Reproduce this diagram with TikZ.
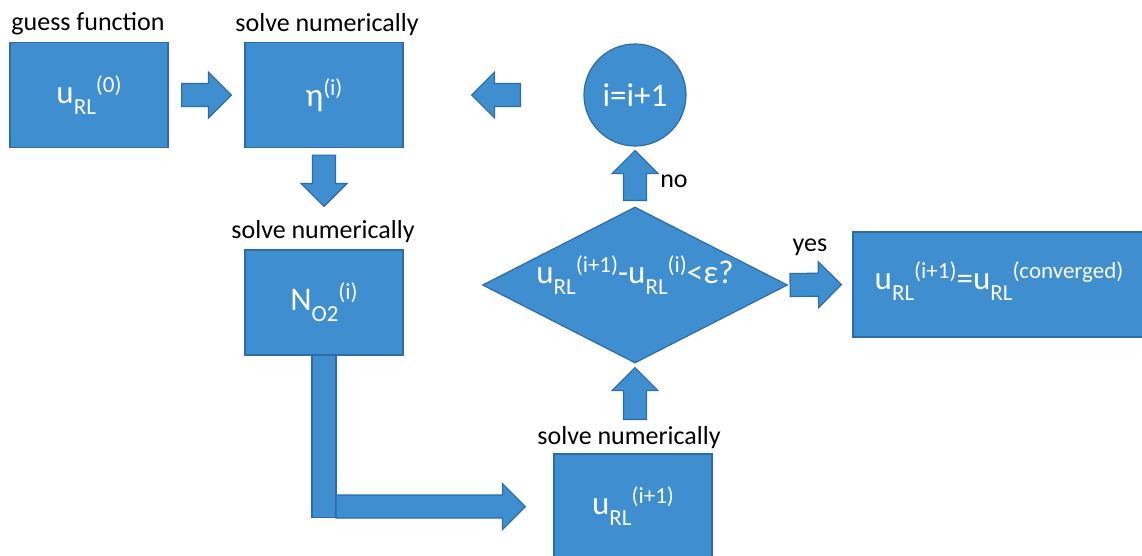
\documentclass[tikz,border=0pt]{standalone}
\usepackage{fontspec}
\setmainfont{Carlito}
\usepackage{xcolor}
\usetikzlibrary{shapes.geometric}
\usetikzlibrary{calc}
\usetikzlibrary{positioning}

\definecolor{boxblue}{RGB}{63,142,208}
\definecolor{boxline}{RGB}{46,108,168}

% lowered and raised indices as in the slide
\newcommand{\lo}[1]{\raisebox{-11pt}{\fontsize{23}{23}\selectfont #1}}
\newcommand{\hi}[1]{\raisebox{11pt}{\fontsize{23}{23}\selectfont #1}}

% fat block arrow from #1 to #2
\newcommand{\blockarrow}[2]{%
  \coordinate (hb) at ($(#2)!23pt!(#1)$);
  \filldraw[block] ($(#1)!11.5pt!90:(#2)$) -- ($(hb)!11.5pt!90:(#2)$) -- ($(hb)!23pt!90:(#2)$)
    -- (#2) -- ($(hb)!23pt!-90:(#2)$) -- ($(hb)!11.5pt!-90:(#2)$) -- ($(#1)!11.5pt!-90:(#2)$) -- cycle;}

\begin{document}
\begin{tikzpicture}[x=1pt, y=-1pt,
    % boxes of the loop
    flowbox/.style={rectangle, draw=boxline, fill=boxblue, line width=1.2pt, minimum width=158pt, minimum height=105pt, inner sep=0pt, text=white, font=\fontsize{33}{38}\selectfont},
    counter/.style={circle, draw=boxline, fill=boxblue, line width=1.2pt, minimum size=102pt, inner sep=0pt, text=white, font=\fontsize{33}{38}\selectfont},
    decision/.style={diamond, draw=boxline, fill=boxblue, line width=1.2pt, minimum width=305pt, minimum height=156pt, inner sep=0pt},
    boxtext/.style={text=white, font=\fontsize{33}{38}\selectfont, inner sep=0pt},
    % text above the boxes
    caption/.style={font=\fontsize{26}{31}\selectfont, inner sep=0pt},
    % fat arrows
    block/.style={draw=boxline, fill=boxblue, line width=1.2pt, line join=miter}
  ]
  \useasboundingbox (0,0) rectangle (1142,555);
  \clip (0,0) rectangle (1142,555);

  % --- Boxes ---
  \node[flowbox] (guess) at (89,95)    {u\lo{RL}\hi{(0)}};
  \node[flowbox] (eta)   at (324,95)   {η\hi{(i)}};
  \node[flowbox] (ox)    at (324,302.5) {N\lo{O2}\hi{(i)}};
  \node[flowbox] (unext) at (633,506.5) {u\lo{RL}\hi{(i+1)}};
  \node[flowbox, minimum width=292pt, text depth=17pt] (done) at (999,284.5)
    {u\lo{RL}\hi{(i+1)}=u\lo{RL}\hi{(converged)}};
  \node[counter] (incr)  at (635,95)   {i=i+1};
  \node[decision, label={[boxtext, yshift=10pt]center:u\lo{RL}\hi{(i+1)}-u\lo{RL}\hi{(i)}<ε?}] (check) at (635,285) {};

  % --- Captions ---
  \node[caption] (guesscap) at (88,24)    {guess function};
  \node[caption] (etacap)   at (327,25)   {solve numerically};
  \node[caption] (oxcap)    at (323,232)  {solve numerically};
  \node[caption] (unextcap) at (629,438)  {solve numerically};
  \node[caption] (nocap)    at (674,181)  {no};
  \node[caption] (yescap)   at (810,247)  {yes};

  % --- Arrows ---
  \blockarrow{[xshift=13pt]guess.east}{[xshift=-13pt]eta.west}
  \blockarrow{[xshift=-63pt]incr.west}{[xshift=68pt]eta.east}
  \blockarrow{[yshift=-7pt]eta.south}{[yshift=43pt]ox.north}
  \blockarrow{[yshift=6pt]check.north}{[yshift=-4pt]incr.south}
  \coordinate (feedup) at (check.south |- unext.north);
  \blockarrow{[yshift=34pt]feedup}{[yshift=-4pt]check.south}
  \blockarrow{[xshift=2pt]check.east}{[xshift=-11pt]done.west}

  % elbow from N down and over to the new u
  \coordinate (elbow) at (ox.south |- unext.west);
  \filldraw[block] ([xshift=-12pt]ox.south) rectangle ([xshift=12pt, yshift=-11pt]elbow);
  \blockarrow{[xshift=12pt]elbow}{[xshift=-28pt]unext.west}

\end{tikzpicture}
\end{document}
